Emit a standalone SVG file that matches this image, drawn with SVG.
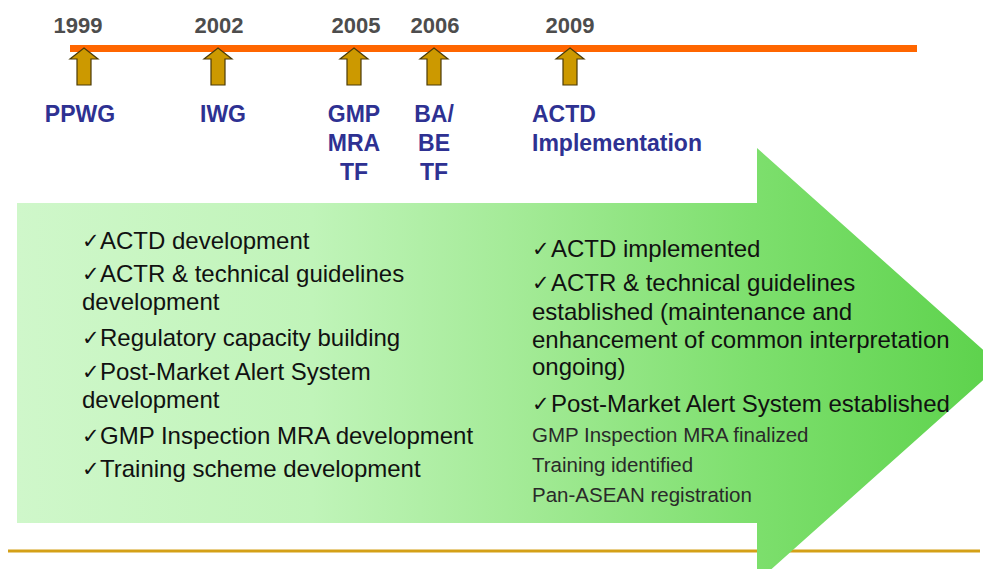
<svg xmlns="http://www.w3.org/2000/svg" width="983" height="569" viewBox="0 0 983 569">
<style>
.yr{font-family:"Liberation Sans",Arial,sans-serif;font-weight:bold;font-size:22px;fill:#4d4d4d;text-anchor:middle}
.lb{font-family:"Liberation Sans",Arial,sans-serif;font-weight:bold;font-size:23px;fill:#2e3192}
.mid{text-anchor:middle}
.up{fill:#cc9900;stroke:#4a3a08;stroke-width:1.2;stroke-linejoin:miter}
.tx{font-family:"Liberation Sans",Arial,sans-serif;font-size:24px;fill:#111}
.sm{font-family:"Liberation Sans",Arial,sans-serif;font-size:20.5px;fill:#2a2a2a}
.ck{font-family:"DejaVu Sans",sans-serif;font-size:21px;fill:#111}
</style>
<defs>
<linearGradient id="g" x1="17" y1="0" x2="1000" y2="0" gradientUnits="userSpaceOnUse">
<stop offset="0" stop-color="#cff7ca"/>
<stop offset="0.3" stop-color="#c0f4b9"/>
<stop offset="0.52" stop-color="#a2ea95"/>
<stop offset="0.75" stop-color="#7ddf6d"/>
<stop offset="1" stop-color="#5cd24b"/>
</linearGradient>
<path id="up" class="up" d="M0,48 L14,59 L7,59 L7,85 L-7,85 L-7,59 L-14,59 Z"/>
</defs>
<rect width="983" height="569" fill="#ffffff"/>
<g id="connectors">
<line x1="70" y1="48.5" x2="917" y2="48.5" stroke="#ff6600" stroke-width="7"/>
<line x1="8" y1="551" x2="980" y2="551" stroke="#d4a017" stroke-width="3"/>
</g>
<g id="big-arrow">
<polygon points="17,203 757,203 757,148 1000,365 757,582 757,523 17,523" fill="url(#g)"/>
</g>
<g id="m1999">
<text class="yr" x="78" y="33">1999</text>
<use href="#up" x="84"/>
<text class="lb mid" x="80" y="122">PPWG</text>
</g>
<g id="m2002">
<text class="yr" x="219" y="33">2002</text>
<use href="#up" x="218"/>
<text class="lb mid" x="223" y="122">IWG</text>
</g>
<g id="m2005">
<text class="yr" x="356" y="33">2005</text>
<use href="#up" x="354"/>
<text class="lb mid" x="354" y="122">GMP</text>
<text class="lb mid" x="354" y="151">MRA</text>
<text class="lb mid" x="354" y="180">TF</text>
</g>
<g id="m2006">
<text class="yr" x="435" y="33">2006</text>
<use href="#up" x="434"/>
<text class="lb mid" x="434" y="122">BA/</text>
<text class="lb mid" x="434" y="151">BE</text>
<text class="lb mid" x="434" y="180">TF</text>
</g>
<g id="m2009">
<text class="yr" x="570" y="33">2009</text>
<use href="#up" x="570"/>
<text class="lb" x="532" y="122">ACTD</text>
<text class="lb" x="532" y="151">Implementation</text>
</g>
<g id="left-list">
<text class="ck" x="82" y="248">✓</text><text class="tx" x="100" y="249">ACTD development</text>
<text class="ck" x="82" y="281">✓</text><text class="tx" x="100" y="282">ACTR &amp; technical guidelines</text>
<text class="tx" x="82" y="310">development</text>
<text class="ck" x="82" y="345">✓</text><text class="tx" x="100" y="346">Regulatory capacity building</text>
<text class="ck" x="82" y="379">✓</text><text class="tx" x="100" y="380">Post-Market Alert System</text>
<text class="tx" x="82" y="408">development</text>
<text class="ck" x="82" y="443">✓</text><text class="tx" x="100" y="444">GMP Inspection MRA development</text>
<text class="ck" x="82" y="476">✓</text><text class="tx" x="100" y="477">Training scheme development</text>
</g>
<g id="right-list">
<text class="ck" x="532" y="256">✓</text><text class="tx" x="551" y="257">ACTD implemented</text>
<text class="ck" x="532" y="290">✓</text><text class="tx" x="551" y="291">ACTR &amp; technical guidelines</text>
<text class="tx" x="532" y="320">established (maintenance and</text>
<text class="tx" x="532" y="348">enhancement of common interpretation</text>
<text class="tx" x="532" y="375">ongoing)</text>
<text class="ck" x="532" y="411">✓</text><text class="tx" x="551" y="412">Post-Market Alert System established</text>
<text class="sm" x="532" y="442">GMP Inspection MRA finalized</text>
<text class="sm" x="532" y="472">Training identified</text>
<text class="sm" x="532" y="502">Pan-ASEAN registration</text>
</g>
</svg>
